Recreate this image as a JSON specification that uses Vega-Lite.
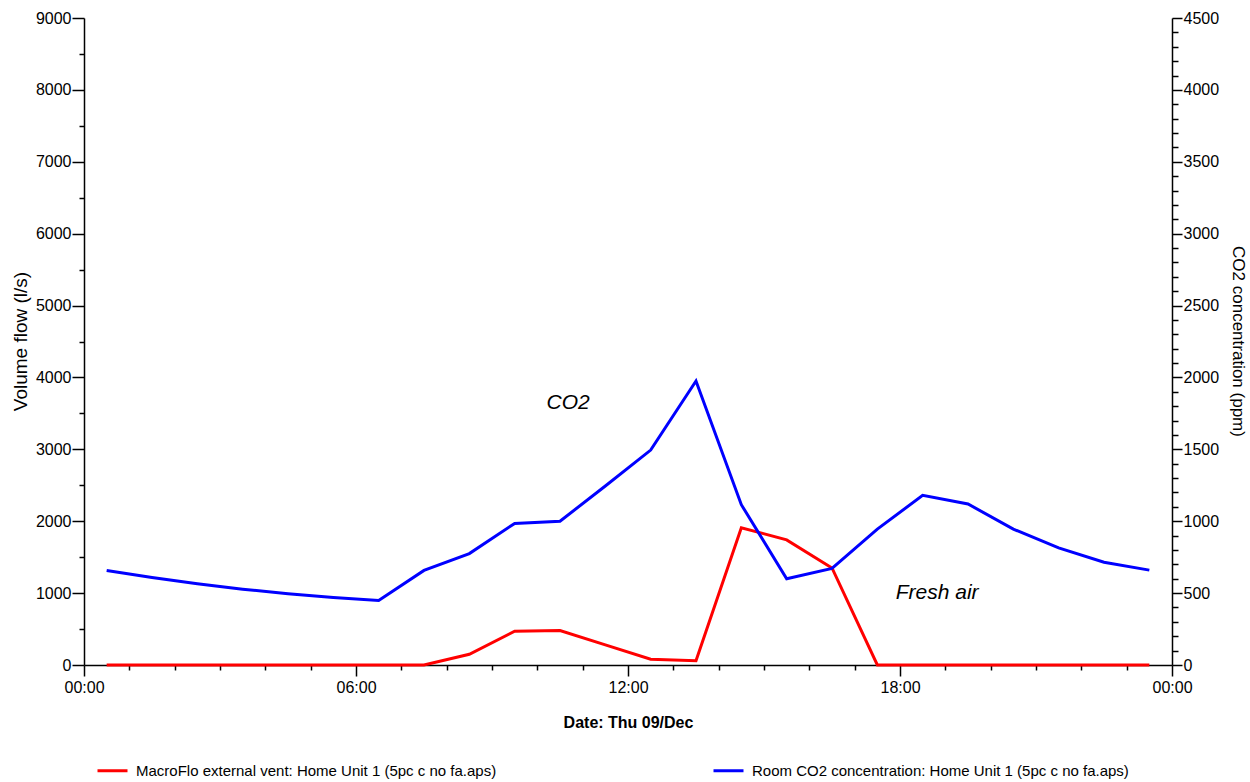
{
  "$schema": "https://vega.github.io/schema/vega-lite/v6.json",
  "autosize": {"type": "none"},
  "width": 1088,
  "height": 647,
  "padding": {"left": 84, "top": 18, "right": 78, "bottom": 117},
  "background": "white",
  "config": {
    "view": {"stroke": null},
    "font": "Liberation Sans",
    "axis": {
      "labelFont": "Liberation Sans",
      "labelFontSize": 16,
      "labelColor": "black",
      "titleFont": "Liberation Sans",
      "titleFontSize": 17,
      "titleColor": "black",
      "titleFontWeight": "normal",
      "domainColor": "black",
      "domainWidth": 1.5,
      "tickColor": "black",
      "tickWidth": 1.5,
      "grid": false
    }
  },
  "datasets": {
    "series": [
      {"h": 0.5, "flow": 0, "co2": 658},
      {"h": 1.5, "flow": 0, "co2": 609},
      {"h": 2.5, "flow": 0, "co2": 565},
      {"h": 3.5, "flow": 0, "co2": 527},
      {"h": 4.5, "flow": 0, "co2": 496},
      {"h": 5.5, "flow": 0, "co2": 470},
      {"h": 6.5, "flow": 0, "co2": 449},
      {"h": 7.5, "flow": 0, "co2": 658},
      {"h": 8.5, "flow": 150, "co2": 775},
      {"h": 9.5, "flow": 470, "co2": 985},
      {"h": 10.5, "flow": 480, "co2": 1000},
      {"h": 11.5, "flow": 280, "co2": 1245},
      {"h": 12.5, "flow": 80, "co2": 1495},
      {"h": 13.5, "flow": 60, "co2": 1975},
      {"h": 14.5, "flow": 1910, "co2": 1115},
      {"h": 15.5, "flow": 1740, "co2": 600},
      {"h": 16.5, "flow": 1350, "co2": 672},
      {"h": 17.5, "flow": 0, "co2": 945},
      {"h": 18.5, "flow": 0, "co2": 1180},
      {"h": 19.5, "flow": 0, "co2": 1120},
      {"h": 20.5, "flow": 0, "co2": 945},
      {"h": 21.5, "flow": 0, "co2": 815},
      {"h": 22.5, "flow": 0, "co2": 715},
      {"h": 23.5, "flow": 0, "co2": 660}
    ],
    "notes": [
      {"h": 10.68, "flow": 3645, "text": "CO2"},
      {"h": 18.82, "flow": 1000, "text": "Fresh air"}
    ]
  },
  "layer": [
    {
      "data": {"name": "series"},
      "mark": {"type": "line", "strokeWidth": 3},
      "encoding": {
        "x": {
          "field": "h",
          "type": "quantitative",
          "scale": {"domain": [0, 24], "nice": false, "zero": false},
          "axis": {
            "values": [0,1,2,3,4,5,6,7,8,9,10,11,12,13,14,15,16,17,18,19,20,21,22,23,24],
            "labelExpr": "datum.value % 6 === 0 ? ((datum.value % 24) < 10 ? '0' : '') + (datum.value % 24) + ':00' : ''",
            "tickSize": {"condition": {"test": "datum.value % 6 === 0", "value": 11}, "value": 5},
            "labelPadding": 3,
            "labelFlush": false,
            "labelOverlap": false,
            "title": "Date: Thu 09/Dec",
            "titleFontWeight": "bold",
            "titleFontSize": 16,
            "titleBaseline": "alphabetic",
            "titleY": 62
          }
        },
        "y": {
          "field": "flow",
          "type": "quantitative",
          "scale": {"domain": [0, 9000], "nice": false},
          "axis": {
            "orient": "left",
            "values": [0,500,1000,1500,2000,2500,3000,3500,4000,4500,5000,5500,6000,6500,7000,7500,8000,8500,9000],
            "format": "d",
            "labelExpr": "datum.value % 1000 === 0 ? datum.label : ''",
            "tickSize": {"condition": {"test": "datum.value % 1000 === 0", "value": 12}, "value": 5},
            "labelPadding": 1,
            "labelOverlap": false,
            "labelFlush": false,
            "title": "Volume flow (l/s)",
            "titleFontSize": 19,
            "titleAngle": -90,
            "titleX": -64,
            "titleY": 323,
            "titleAlign": "center",
            "titleBaseline": "middle"
          }
        },
        "color": {
          "datum": "MacroFlo external vent: Home Unit 1 (5pc c no fa.aps)",
          "type": "nominal",
          "scale": {
            "domain": ["MacroFlo external vent: Home Unit 1 (5pc c no fa.aps)", "Room CO2 concentration: Home Unit 1 (5pc c no fa.aps)"],
            "range": ["#ff0000", "#0000ff"]
          },
          "legend": {
            "orient": "none",
            "legendX": 12,
            "legendY": 736,
            "direction": "horizontal",
            "columns": 2,
            "columnPadding": 210,
            "title": null,
            "symbolType": "stroke",
            "symbolSize": 900,
            "symbolStrokeWidth": 3,
            "labelFont": "Liberation Sans",
            "labelFontSize": 15,
            "labelColor": "black",
            "labelOffset": 7,
            "labelLimit": 0
          }
        }
      }
    },
    {
      "data": {"name": "notes"},
      "mark": {"type": "text", "font": "Liberation Sans", "fontSize": 21, "fontStyle": "italic", "color": "black", "align": "center", "baseline": "middle"},
      "encoding": {
        "x": {"field": "h", "type": "quantitative"},
        "y": {"field": "flow", "type": "quantitative", "scale": {"domain": [0, 9000], "nice": false}, "axis": null},
        "text": {"field": "text"}
      }
    },
    {
      "data": {"name": "series"},
      "mark": {"type": "line", "strokeWidth": 3},
      "encoding": {
        "x": {"field": "h", "type": "quantitative"},
        "y": {
          "field": "co2",
          "type": "quantitative",
          "scale": {"domain": [0, 4500], "nice": false},
          "axis": {
            "orient": "right",
            "values": [0,100,200,300,400,500,600,700,800,900,1000,1100,1200,1300,1400,1500,1600,1700,1800,1900,2000,2100,2200,2300,2400,2500,2600,2700,2800,2900,3000,3100,3200,3300,3400,3500,3600,3700,3800,3900,4000,4100,4200,4300,4400,4500],
            "format": "d",
            "labelExpr": "datum.value % 500 === 0 ? datum.label : ''",
            "tickSize": {"condition": {"test": "datum.value % 500 === 0", "value": 10}, "value": 6},
            "labelPadding": 1,
            "labelOverlap": false,
            "labelFlush": false,
            "title": "CO2 concentration (ppm)",
            "titleAngle": 90,
            "titleX": 65,
            "titleY": 323,
            "titleAlign": "center",
            "titleBaseline": "middle"
          }
        },
        "color": {
          "datum": "Room CO2 concentration: Home Unit 1 (5pc c no fa.aps)",
          "type": "nominal"
        }
      }
    }
  ],
  "resolve": {"scale": {"y": "independent"}}
}
